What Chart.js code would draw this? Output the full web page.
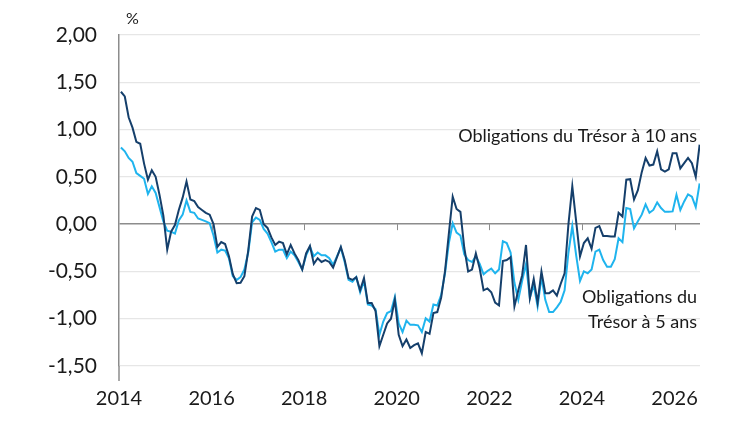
<!DOCTYPE html>
<html>
<head>
<meta charset="utf-8">
<script src="https://cdn.jsdelivr.net/npm/chart.js@4/dist/chart.umd.min.js"></script>
<style>
  html, body { margin: 0; padding: 0; background: #fff; }
  #wrap { width: 750px; height: 422px; position: relative; }
</style>
</head>
<body>
<div id="wrap"><canvas id="chart"></canvas></div>
<script>
// monthly yields, Jan 2014 onwards (%)
const startYear = 2014;
const yield10 = [
  1.40, 1.35, 1.13, 1.02, 0.87, 0.85, 0.64, 0.47, 0.57, 0.50, 0.31, 0.09,
  -0.27, -0.08, -0.01, 0.15, 0.28, 0.45, 0.26, 0.245, 0.18, 0.15, 0.12, 0.10,
  0.00, -0.24, -0.19, -0.21, -0.34, -0.53, -0.625, -0.62, -0.55, -0.28, 0.08, 0.17,
  0.15, 0.00, -0.04, -0.14, -0.22, -0.185, -0.20, -0.32, -0.22, -0.31, -0.38, -0.48,
  -0.31, -0.23, -0.42, -0.36, -0.40, -0.38, -0.40, -0.46, -0.35, -0.24, -0.38, -0.57,
  -0.59, -0.56, -0.70, -0.57, -0.835, -0.835, -0.92, -1.29, -1.17, -1.05, -1.00, -0.80,
  -1.17, -1.29, -1.22, -1.31, -1.28, -1.26, -1.365, -1.14, -1.16, -0.94, -0.93, -0.78,
  -0.50, -0.10, 0.29, 0.16, 0.13, -0.25, -0.50, -0.48, -0.31, -0.47, -0.70, -0.68,
  -0.72, -0.83, -0.86, -0.39, -0.38, -0.35, -0.87, -0.70, -0.54, -0.22, -0.78, -0.58,
  -0.83, -0.50, -0.73, -0.73, -0.70, -0.755, -0.63, -0.52, 0.00, 0.40, 0.03, -0.34,
  -0.20, -0.15, -0.26, -0.04, -0.02, -0.125, -0.125, -0.13, -0.13, 0.12, 0.08, 0.47,
  0.475, 0.26, 0.36, 0.55, 0.70, 0.62, 0.63, 0.77, 0.58, 0.555, 0.58, 0.75,
  0.75, 0.59, 0.645, 0.70, 0.645, 0.50, 0.84
];
const yield5 = [
  0.81, 0.77, 0.70, 0.66, 0.54, 0.51, 0.48, 0.32, 0.40, 0.33, 0.18, 0.03,
  -0.07, -0.08, -0.10, 0.04, 0.10, 0.25, 0.13, 0.12, 0.06, 0.045, 0.03, 0.01,
  -0.12, -0.30, -0.27, -0.28, -0.36, -0.55, -0.59, -0.56, -0.48, -0.30, 0.02, 0.07,
  0.045, -0.05, -0.10, -0.19, -0.29, -0.27, -0.27, -0.36, -0.29, -0.33, -0.40, -0.48,
  -0.33, -0.24, -0.34, -0.30, -0.33, -0.33, -0.36, -0.43, -0.34, -0.25, -0.40, -0.59,
  -0.61, -0.56, -0.72, -0.60, -0.85, -0.86, -0.90, -1.17, -1.03, -0.94, -0.92, -0.77,
  -1.05, -1.14, -1.02, -1.065, -1.065, -1.07, -1.14, -0.995, -1.03, -0.85, -0.86, -0.75,
  -0.52, -0.20, 0.01, -0.09, -0.12, -0.32, -0.38, -0.40, -0.34, -0.42, -0.53, -0.495,
  -0.47, -0.52, -0.48, -0.18, -0.20, -0.30, -0.62, -0.80, -0.60, -0.42, -0.78, -0.64,
  -0.87, -0.56, -0.80, -0.93, -0.93, -0.88, -0.82, -0.70, -0.30, -0.02, -0.33, -0.60,
  -0.50, -0.52, -0.48, -0.29, -0.27, -0.38, -0.45, -0.45, -0.37, -0.15, -0.19, 0.17,
  0.16, -0.045, 0.03, 0.10, 0.21, 0.12, 0.15, 0.23, 0.17, 0.13, 0.13, 0.135,
  0.31, 0.15, 0.24, 0.315, 0.29, 0.18, 0.43
];
const yTicks = [-1.5, -1, -0.5, 0, 0.5, 1, 1.5, 2];
const xTicks = [2014, 2016, 2018, 2020, 2022, 2024, 2026];
const labels10 = ['Obligations du Trésor à 10 ans'];
const labels5 = ['Obligations du', 'Trésor à 5 ans'];

// month i is plotted mid-month
const toPoints = arr => arr.map((v, i) => ({ x: startYear + (i + 0.5) / 12, y: v }));

const FONT = 'Lato, "Open Sans", sans-serif';
const TEXT = '#1a1a1a';

const extras = {
    id: 'extras',
    afterDraw(chart) {
        const ctx = chart.ctx;
        const x = chart.scales.x, y = chart.scales.y;
        const zeroY = y.getPixelForValue(0);
        const area = chart.chartArea;
        ctx.save();
        ctx.strokeStyle = '#8c8c8c';
        ctx.lineWidth = 1.5;
        // axis line runs a little past the last gridline
        ctx.beginPath();
        ctx.moveTo(area.left, area.bottom);
        ctx.lineTo(area.left, area.bottom + 15);
        ctx.stroke();
        // tick marks sit on the zero line
        ctx.lineWidth = 1;
        xTicks.slice(1).forEach(t => {
            const px = Math.round(x.getPixelForValue(t)) + 0.5;
            ctx.beginPath();
            ctx.moveTo(px, zeroY);
            ctx.lineTo(px, zeroY + 6);
            ctx.stroke();
        });
        ctx.fillStyle = TEXT;
        ctx.font = '16px ' + FONT;
        ctx.textAlign = 'left';
        ctx.textBaseline = 'middle';
        ctx.fillText('%', 126, 19);
        ctx.font = '18px ' + FONT;
        ctx.textAlign = 'right';
        ctx.fillText(labels10[0], 697, 136);
        ctx.fillText(labels5[0], 697, 297);
        ctx.fillText(labels5[1], 697, 322);
        ctx.restore();
    }
};

new Chart(document.getElementById('chart'), {
    type: 'line',
    data: {
        datasets: [
            {
                label: labels10[0],
                data: toPoints(yield10),
                borderColor: '#153f6b',
                borderWidth: 2,
                pointRadius: 0,
                tension: 0
            },
            {
                label: labels5.join(' '),
                data: toPoints(yield5),
                borderColor: '#1fb4ee',
                borderWidth: 2,
                pointRadius: 0,
                tension: 0
            }
        ]
    },
    options: {
        responsive: true,
        maintainAspectRatio: false,
        animation: false,
        layout: { padding: { top: 35, right: 50, bottom: 0, left: 0 } },
        plugins: {
            legend: { display: false },
            tooltip: { enabled: false }
        },
        scales: {
            x: {
                type: 'linear',
                min: 2014,
                max: 2026.55,
                afterFit: s => { s.height = 56; },
                afterBuildTicks: s => { s.ticks = xTicks.map(v => ({ value: v })); },
                grid: { display: false, drawTicks: false },
                border: { display: false },
                ticks: {
                    padding: 21,
                    color: TEXT,
                    font: { family: FONT, size: 20 },
                    maxRotation: 0,
                    callback: v => String(v)
                }
            },
            y: {
                min: -1.5,
                max: 2,
                afterFit: s => { s.width = 119; },
                afterBuildTicks: s => { s.ticks = yTicks.map(v => ({ value: v })); },
                grid: {
                    drawTicks: false,
                    color: c => c.tick && c.tick.value === 0 ? '#8c8c8c' : '#e6e6e6',
                    lineWidth: c => c.tick && c.tick.value === 0 ? 1.5 : 1.2
                },
                border: { display: true, color: '#8c8c8c', width: 1.5 },
                ticks: {
                    padding: 22,
                    color: TEXT,
                    font: { family: FONT, size: 21 },
                    callback: v => v.toFixed(2).replace('.', ',')
                }
            }
        }
    },
    plugins: [extras]
});
</script>
</body>
</html>
